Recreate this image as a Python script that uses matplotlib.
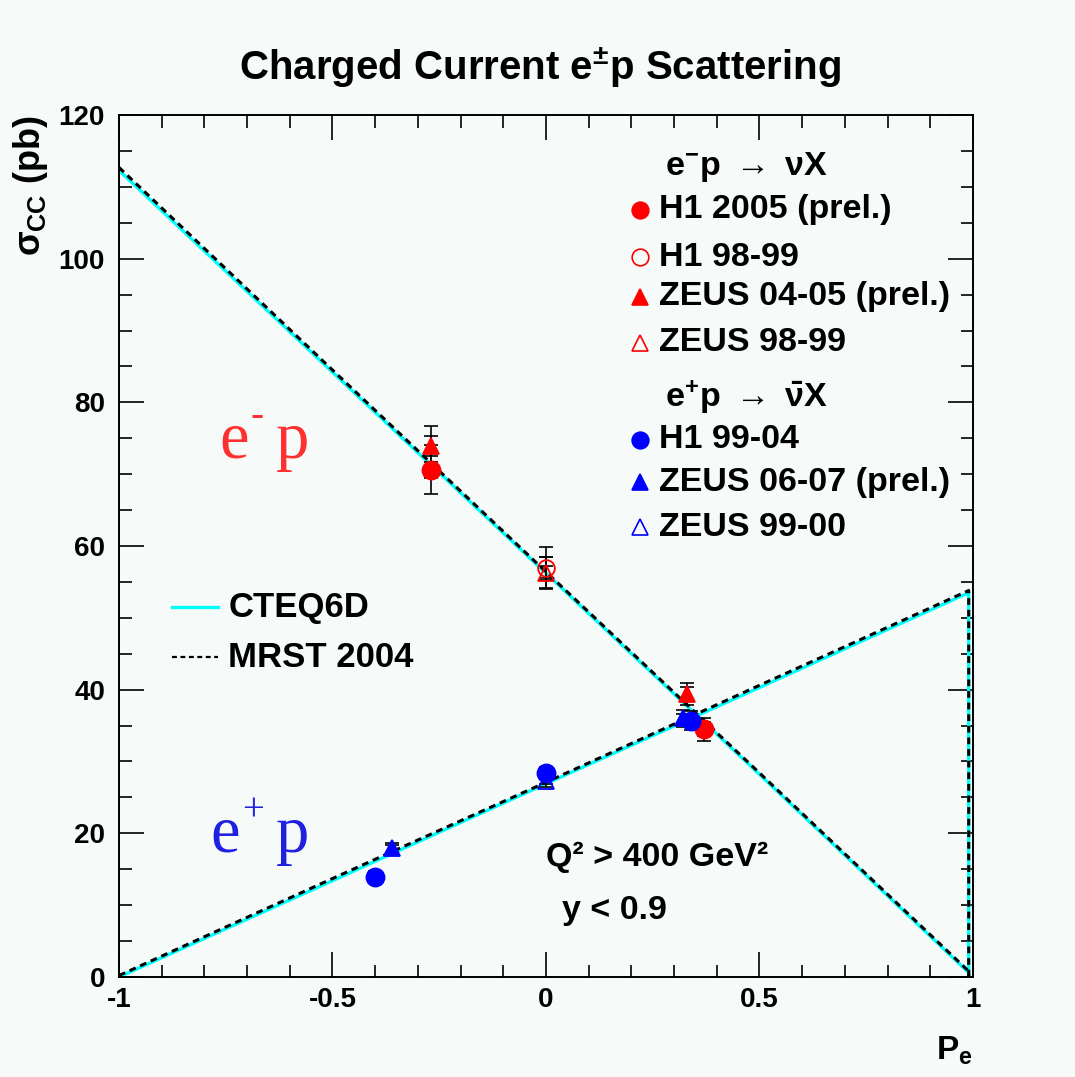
import matplotlib
matplotlib.use("Agg")
import matplotlib.pyplot as plt
import numpy as np

plt.rcParams['font.family'] = ['Liberation Sans', 'DejaVu Sans']
plt.rcParams['font.weight'] = 'bold'
plt.rcParams['axes.unicode_minus'] = False
plt.rcParams['mathtext.fontset'] = 'custom'
plt.rcParams['mathtext.rm'] = 'Liberation Sans:bold'
plt.rcParams['mathtext.bf'] = 'Liberation Sans:bold'
plt.rcParams['mathtext.it'] = 'Liberation Sans:bold'

BG = '#f6fbf9'

# theory curves (P_e, sigma_CC in pb)
P_th = [-1.0, -0.5, 0.0, 0.5, 0.99, 0.99]
em_cteq = [112.3, 84.2, 56.2, 28.2, 0.6, 0.0]
em_mrst = [112.7, 84.5, 56.4, 28.4, 0.8, 0.0]
ep_cteq = [0.0, 13.4, 26.9, 40.3, 53.5, 0.0]
ep_mrst = [0.2, 13.7, 27.1, 40.6, 53.8, 0.0]

# e- p data
h1_05_P = [-0.27, 0.37]
h1_05_s = [70.6, 34.5]
h1_05_stat = [1.1, 1.0]
h1_05_tot = [3.4, 1.6]

h1_98_P = [0.0]
h1_98_s = [57.0]
h1_98_stat = [1.4]
h1_98_tot = [2.9]

zeus_04_P = [-0.27, 0.33]
zeus_04_s = [73.9, 39.4]
zeus_04_stat = [1.4, 0.9]
zeus_04_tot = [2.8, 1.5]

zeus_98_P = [0.0]
zeus_98_s = [56.2]
zeus_98_stat = [1.0]
zeus_98_tot = [2.2]

# e+ p data
h1_99_P = [-0.40, 0.0, 0.34]
h1_99_s = [13.9, 28.4, 35.7]
h1_99_stat = [0.6, 0.6, 0.9]
h1_99_tot = [0.8, 0.8, 1.3]

zeus_06_P = [-0.36, 0.32]
zeus_06_s = [17.9, 36.0]
zeus_06_stat = [0.5, 0.6]
zeus_06_tot = [0.8, 1.2]

zeus_99_P = [0.0]
zeus_99_s = [27.3]
zeus_99_stat = [0.5]
zeus_99_tot = [0.9]

fig = plt.figure(figsize=(10.75, 10.77), dpi=100, facecolor=BG)
ax = fig.add_axes([0.1107, 0.0929, 0.7944, 0.8003])
ax.set_facecolor(BG)

ax.plot(P_th, em_cteq, color='cyan', lw=2.4)
ax.plot(P_th, ep_cteq, color='cyan', lw=2.4)
ax.plot(P_th, em_mrst, color='black', lw=2.2, ls=(0, (2.2, 1.6)))
ax.plot(P_th, ep_mrst, color='black', lw=2.2, ls=(0, (2.2, 1.6)))

def points(P, s, stat, tot, color, marker, filled, ms):
    ax.errorbar(P, s, yerr=tot, fmt='none', ecolor='black', elinewidth=1.2,
                capsize=5, capthick=1.2, zorder=4)
    ax.errorbar(P, s, yerr=stat, fmt='none', ecolor='black', elinewidth=1.2,
                capsize=5, capthick=1.2, zorder=4)
    ax.plot(P, s, ls='none', marker=marker, ms=ms, color=color,
            mfc=color if filled else 'none', mew=1.3, zorder=5)

points(h1_98_P, h1_98_s, h1_98_stat, h1_98_tot, 'red', 'o', False, 12)
points(zeus_98_P, zeus_98_s, zeus_98_stat, zeus_98_tot, 'red', '^', False, 11)
points(zeus_99_P, zeus_99_s, zeus_99_stat, zeus_99_tot, 'blue', '^', False, 11)
points(zeus_04_P, zeus_04_s, zeus_04_stat, zeus_04_tot, 'red', '^', True, 12)
points(h1_05_P, h1_05_s, h1_05_stat, h1_05_tot, 'red', 'o', True, 13)
points(zeus_06_P, zeus_06_s, zeus_06_stat, zeus_06_tot, 'blue', '^', True, 12)
points(h1_99_P, h1_99_s, h1_99_stat, h1_99_tot, 'blue', 'o', True, 13)

ax.set_xlim(-1, 1)
ax.set_ylim(0, 120)
ax.set_xticks([-1, -0.5, 0, 0.5, 1])
ax.set_xticklabels(['-1', '-0.5', '0', '0.5', '1'])
ax.set_xticks(np.arange(-1, 1.01, 0.1), minor=True)
ax.set_yticks(np.arange(0, 121, 20))
ax.set_yticks(np.arange(0, 121, 5), minor=True)
ax.tick_params(which='both', direction='in', top=True, right=True, width=1.2,
               labelsize=20)
ax.tick_params(which='major', length=18)
ax.tick_params(which='minor', length=9)
ax.tick_params(axis='x', which='major', pad=7)
ax.tick_params(axis='y', which='major', pad=10)
for sp in ax.spines.values():
    sp.set_linewidth(1.4)

ax.set_ylabel(r'$\sigma_{CC}$ (pb)', fontsize=26, fontweight='bold',
              loc='top', labelpad=6)
ax.set_xlabel(r'P$_{\rm e}$', fontsize=24, fontweight='bold', loc='right',
              labelpad=16)

fig.text(0.502, 0.937, r'Charged Current e$^{\pm}$p Scattering', ha='center',
         va='center', fontsize=29, fontweight='bold')

# big beam labels in a serif face: "e", raised sign, "p"
def beam_label(x, y, sign, color):
    kw = dict(family='Liberation Serif', fontweight='normal', color=color)
    te = ax.text(x, y, 'e', fontsize=48, va='baseline', ha='left', **kw)
    ts = ax.annotate(sign, xy=(1, 0.6), xycoords=te, xytext=(1, 0),
                     textcoords='offset points', fontsize=28, va='bottom',
                     ha='left', **kw)
    ax.annotate('p', xy=(1, 0), xycoords=(ts, te), xytext=(9, 0),
                textcoords='offset points', fontsize=48, va='bottom',
                ha='left', **kw)

beam_label(-0.765, 72.3, '-', '#ff3030')
beam_label(-0.785, 17.4, '+', '#2020e0')

ax.text(0.0, 16.7, 'Q² > 400 GeV²', fontsize=24.5, va='center', ha='left')
ax.text(0.037, 9.3, 'y < 0.9', fontsize=24.5, va='center', ha='left')

# theory legend
tr = ax.transAxes
ax.plot([0.062, 0.116], [0.429, 0.429], color='cyan', lw=2.4, transform=tr)
ax.plot([0.062, 0.116], [0.371, 0.371], color='black', lw=1.6,
        ls=(0, (2.2, 1.6)), transform=tr)
ax.text(0.128, 0.429, 'CTEQ6D', transform=tr, fontsize=25, va='center')
ax.text(0.128, 0.371, 'MRST 2004', transform=tr, fontsize=25, va='center')

# data legend
rows = [
    ('H1 2005 (prel.)', 'red', 'o', True, 0.890),
    ('H1 98-99', 'red', 'o', False, 0.835),
    ('ZEUS 04-05 (prel.)', 'red', '^', True, 0.789),
    ('ZEUS 98-99', 'red', '^', False, 0.736),
    ('H1 99-04', 'blue', 'o', True, 0.623),
    ('ZEUS 06-07 (prel.)', 'blue', '^', True, 0.574),
    ('ZEUS 99-00', 'blue', '^', False, 0.522),
]
for lab, c, m, f, yy in rows:
    ax.plot([0.610], [yy], marker=m, ms=12, color=c, mfc=c if f else 'none',
            mew=1.2, transform=tr, clip_on=False)
    ax.text(0.632, yy, lab, transform=tr, fontsize=24.5, va='center')
ax.text(0.639, 0.940, r'e$^{-}$p $\rightarrow$ $\nu$X', transform=tr,
        fontsize=24.5, va='center')
ax.text(0.639, 0.673, r'e$^{+}$p $\rightarrow$ $\bar{\nu}$X', transform=tr,
        fontsize=24.5, va='center')

fig.savefig('out.png', dpi=100, facecolor=BG)
